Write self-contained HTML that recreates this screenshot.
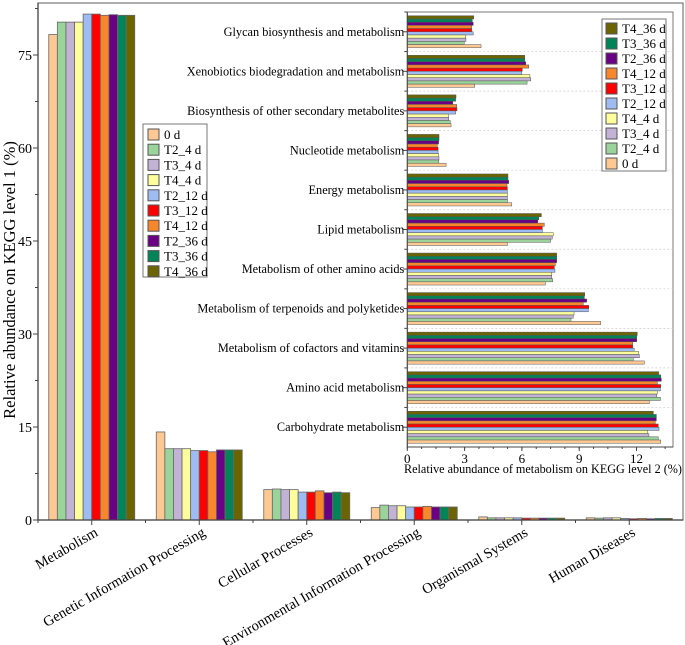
<!DOCTYPE html>
<html><head><meta charset="utf-8"><style>
body{margin:0;background:#fff}
svg{display:block;font-family:"Liberation Serif",serif}
</style></head><body>
<svg id="chart" width="685" height="645" viewBox="0 0 685 645"></svg>
<script>
const series=["0 d","T2_4 d","T3_4 d","T4_4 d","T2_12 d","T3_12 d","T4_12 d","T2_36 d","T3_36 d","T4_36 d"];
const colors=["#fdc891","#9ad49a","#c2b2d6","#fdfd9c","#9ebcf2","#fe0000","#f7872a","#6a0083","#018558","#6b6400"];
const cats1=["Metabolism","Genetic Information Processing","Cellular Processes","Environmental Information Processing","Organismal Systems","Human Diseases"];
const s0d=[78.3,14.2,4.9,2.0,0.5,0.35];
const sT2_4=[80.3,11.5,5.0,2.4,0.35,0.3];
const sT3_4=[80.3,11.5,4.9,2.3,0.35,0.35];
const sT4_4=[80.3,11.5,4.9,2.3,0.35,0.35];
const sT2_12=[81.6,11.2,4.5,2.1,0.35,0.25];
const sT3_12=[81.6,11.2,4.5,2.1,0.3,0.2];
const sT4_12=[81.4,11.0,4.7,2.2,0.3,0.25];
const sT2_36=[81.5,11.3,4.4,2.1,0.3,0.2];
const sT3_36=[81.4,11.3,4.5,2.1,0.3,0.25];
const sT4_36=[81.4,11.3,4.4,2.1,0.3,0.25];
const yTicks1=[0,15,30,45,60,75];
const cats2=["Glycan biosynthesis and metabolism","Xenobiotics biodegradation and metabolism","Biosynthesis of other secondary metabolites","Nucleotide metabolism","Energy metabolism","Lipid metabolism","Metabolism of other amino acids","Metabolism of terpenoids and polyketides","Metabolism of cofactors and vitamins","Amino acid metabolism","Carbohydrate metabolism"];
const i0d=[3.86,3.53,2.29,2.03,5.47,5.24,7.23,10.13,12.41,12.67,13.27];
const iT2_4=[2.98,6.27,2.25,1.64,5.24,7.50,7.61,8.57,11.83,13.25,13.14];
const iT3_4=[3.07,6.46,2.17,1.66,5.24,7.59,7.56,8.69,12.15,13.06,12.65];
const iT4_4=[3.06,6.42,2.15,1.64,5.24,7.64,7.56,8.73,12.11,13.09,12.59];
const iT2_12=[3.45,5.99,2.53,1.61,5.24,7.07,7.73,9.48,11.88,13.25,13.18];
const iT3_12=[3.37,6.02,2.60,1.61,5.24,7.07,7.70,9.50,11.80,13.27,13.14];
const iT4_12=[3.37,6.36,2.59,1.57,5.22,7.17,7.75,9.21,11.80,13.09,12.98];
const iT2_36=[3.45,6.20,2.38,1.64,5.31,6.83,7.82,9.39,12.01,13.30,13.04];
const iT3_36=[3.40,6.15,2.53,1.66,5.27,6.88,7.82,9.27,12.01,13.27,13.04];
const iT4_36=[3.48,6.15,2.55,1.66,5.27,7.02,7.82,9.29,12.04,13.16,12.88];
const xTicks2=[0,3,6,9,12];

const main=[s0d,sT2_4,sT3_4,sT4_4,sT2_12,sT3_12,sT4_12,sT2_36,sT3_36,sT4_36];
const inset=[i0d,iT2_4,iT3_4,iT4_4,iT2_12,iT3_12,iT4_12,iT2_36,iT3_36,iT4_36];
const svg=document.getElementById('chart');
const NS='http://www.w3.org/2000/svg';
function mk(tag,attrs,parent){const e=document.createElementNS(NS,tag);for(const k in attrs)e.setAttribute(k,attrs[k]);(parent||svg).appendChild(e);return e;}

const X0=38,X1=683,Y0=520,YT=3;
const yS=v=>Y0-v*6.2;
const band=(X1-X0)/6;
const bw=8.6;
let e=mk('rect',{x:X0,y:YT,width:X1-X0,height:Y0-YT,fill:'none',stroke:'#777','stroke-width':1.2});


cats1.forEach((c,i)=>{
  const gx=X0+band*i+(band-bw*10)/2;
  main.forEach((s,j)=>{
    const r=mk('rect',{x:gx+j*bw,y:yS(s[i]),width:bw,height:Y0-yS(s[i]),fill:colors[j],stroke:'#666','stroke-width':0.8});
    
    
  });
  const cx=X0+band*i+band/2;
  mk('line',{x1:cx,y1:Y0,x2:cx,y2:Y0+5,stroke:'#444'});
  mk('line',{x1:X0+band*i,y1:Y0,x2:X0+band*i,y2:Y0+3,stroke:'#444'});
  const t=mk('text',{x:cx+7,y:Y0+15,'text-anchor':'end','font-size':14.5,transform:`rotate(-30 ${cx+7} ${Y0+15})`});
  t.textContent=c;
  
  
});
mk('line',{x1:X0,y1:Y0,x2:X1,y2:Y0,stroke:'#444','stroke-width':1.2});
mk('line',{x1:X0,y1:YT,x2:X0,y2:Y0,stroke:'#444','stroke-width':1.2});
yTicks1.forEach(v=>{
  mk('line',{x1:X0-5,y1:yS(v),x2:X0,y2:yS(v),stroke:'#444'});
  mk('line',{x1:X0-3,y1:yS(v+7.5),x2:X0,y2:yS(v+7.5),stroke:'#444'});
  const t=mk('text',{x:X0-6,y:yS(v)+5,'text-anchor':'end','font-size':14});
  t.textContent=v;
  
  
});
e=mk('text',{x:15,y:280,'text-anchor':'middle','font-size':16.5,transform:'rotate(-90 15 280)'});
e.textContent='Relative abundance on KEGG level 1 (%)';



const lg=mk('g',{});


mk('rect',{x:143,y:124,width:64,height:153,fill:'#fff',stroke:'#777'},lg);
series.forEach((s,j)=>{
  const y=129+j*15.2;
  const g=mk('g',{},lg);
  
  
  mk('rect',{x:148,y:y,width:11,height:11,fill:colors[j],stroke:'#555'},g);
  const t=mk('text',{x:164,y:y+10,'font-size':13},g);t.textContent=s;
});

const IX0=407.3,IX1=673,IY0=12,IY1=447;
const xS=v=>IX0+v*19.1;
const ib=(IY1-IY0)/11, bh=3.2;
e=mk('rect',{x:IX0,y:IY0,width:IX1-IX0,height:IY1-IY0,fill:'#fff',stroke:'#777'});


cats2.forEach((c,i)=>{
  const top=IY0+ib*i;
  if(i>0){mk('line',{x1:IX0,y1:top,x2:IX1,y2:top,stroke:'#ccc','stroke-dasharray':'2,2','stroke-width':0.7});}
  mk('line',{x1:IX0-3,y1:top,x2:IX0,y2:top,stroke:'#444'});
  const gy=top+(ib-bh*10)/2;
  for(let j=9;j>=0;j--){
    const k=9-j;
    const s=inset[j];
    const r=mk('rect',{x:IX0,y:gy+k*bh,width:xS(s[i])-IX0,height:bh,fill:colors[j],stroke:'#555','stroke-width':0.5});
    
    
  }
  const cy=top+ib/2;
  mk('line',{x1:IX0-4,y1:cy,x2:IX0,y2:cy,stroke:'#444'});
  const t=mk('text',{x:IX0-3,y:cy+4,'text-anchor':'end','font-size':12.3});
  t.textContent=c;
  
  
});
mk('line',{x1:IX0,y1:IY0,x2:IX0,y2:IY1,stroke:'#444'});
mk('line',{x1:IX0,y1:IY1,x2:IX1,y2:IY1,stroke:'#444'});
for(let v=0;v<=13.5;v+=0.75){mk('line',{x1:xS(v),y1:IY1,x2:xS(v),y2:IY1+2,stroke:'#444'});}
xTicks2.forEach(v=>{
  mk('line',{x1:xS(v),y1:IY1,x2:xS(v),y2:IY1+4,stroke:'#444'});
  const t=mk('text',{x:xS(v),y:IY1+16,'text-anchor':'middle','font-size':13});
  t.textContent=v;
  
  
});
e=mk('text',{x:404,y:473,'font-size':13,textLength:278,lengthAdjust:'spacingAndGlyphs'});
e.textContent='Relative abundance of metabolism on KEGG level 2 (%)';



const lg2=mk('g',{});


mk('rect',{x:602,y:19,width:64,height:152,fill:'#fff',stroke:'#777'},lg2);
for(let j=9;j>=0;j--){
  const y=23+(9-j)*15;
  const g=mk('g',{},lg2);
  
  
  mk('rect',{x:606,y:y,width:11,height:11,fill:colors[j],stroke:'#555'},g);
  const t=mk('text',{x:622,y:y+10,'font-size':13},g);t.textContent=series[j];
}
</script>
</body></html>
